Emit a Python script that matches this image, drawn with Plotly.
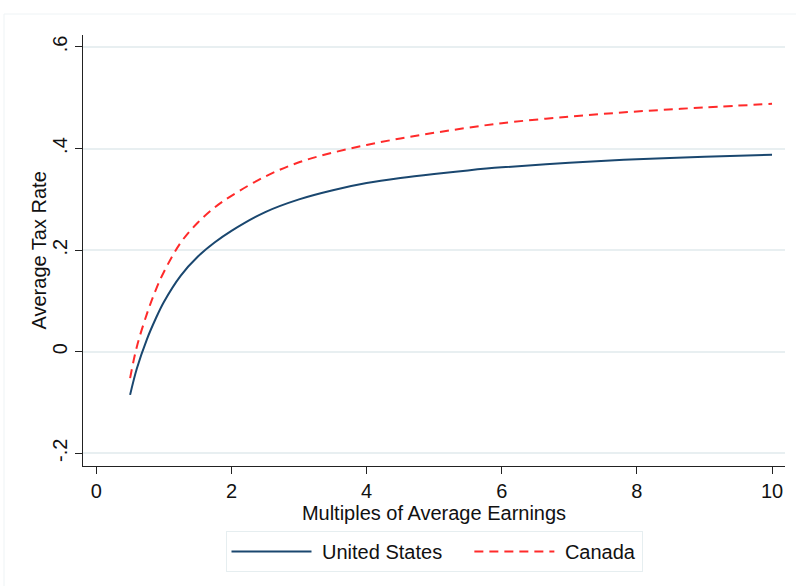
import plotly.graph_objects as go

# Income as a multiple of average earnings
multiples = [0.5, 0.6, 0.75, 0.875, 1.0, 1.25, 1.5, 1.75, 2.0, 2.5, 3.0,
             3.5, 4.0, 4.5, 5.0, 5.5, 6.0, 7.0, 8.0, 9.0, 10.0]

# Average tax rate at each multiple
us_rate = [-0.085, -0.033, 0.025, 0.064, 0.098, 0.150, 0.187, 0.215, 0.238,
           0.275, 0.300, 0.318, 0.332, 0.342, 0.350, 0.357, 0.363, 0.372,
           0.379, 0.384, 0.388]
canada_rate = [-0.052, 0.010, 0.075, 0.120, 0.157, 0.215, 0.254, 0.284,
               0.307, 0.345, 0.373, 0.392, 0.407, 0.420, 0.431, 0.441,
               0.450, 0.463, 0.473, 0.481, 0.488]

y_ticks = [-0.2, 0, 0.2, 0.4, 0.6]
y_tick_text = ["-.2", "0", ".2", ".4", ".6"]
x_ticks = [0, 2, 4, 6, 8, 10]

FONT = "Liberation Sans, Arial, sans-serif"
GRID = "#e8eff1"
AXIS = "#222222"
FS = 20
NBSP = "\u00a0"

fig = go.Figure()
fig.add_trace(go.Scatter(
    x=multiples, y=us_rate, mode="lines",
    name=NBSP + "United States" + NBSP * 4,
    line=dict(color="#1a476f", width=2, shape="spline", smoothing=1.0),
))
fig.add_trace(go.Scatter(
    x=multiples, y=canada_rate, mode="lines", name=NBSP + "Canada",
    line=dict(color="#ff2a2a", width=2, dash="9px,6px", shape="spline",
              smoothing=1.0),
))

fig.update_layout(
    width=796, height=586,
    margin=dict(l=83, r=11, t=35, b=120),
    paper_bgcolor="white", plot_bgcolor="white",
    font=dict(family=FONT, size=FS, color="#111111"),
    showlegend=True,
    legend=dict(
        orientation="h", x=0.5, xanchor="center", y=-0.151, yanchor="top",
        bordercolor="#e6eef0", borderwidth=1, bgcolor="white",
        font=dict(size=FS), itemwidth=80, tracegroupgap=0,
    ),
    xaxis=dict(
        range=[-0.197, 10.192], tickvals=x_ticks, showgrid=False,
        zeroline=False, showline=True, linecolor=AXIS, linewidth=1,
        ticks="outside", ticklen=7, tickcolor=AXIS, tickwidth=1,
        tickfont=dict(size=FS),
        title=dict(text="Multiples of Average Earnings", standoff=2,
                   font=dict(size=FS)),
    ),
    yaxis=dict(
        range=[-0.225, 0.6236], tickvals=y_ticks, ticktext=y_tick_text,
        tickangle=-90, showgrid=True, gridcolor=GRID, gridwidth=1.5,
        zeroline=False, showline=True, linecolor=AXIS, linewidth=1,
        ticks="outside", ticklen=7, tickcolor=AXIS, tickwidth=1,
        tickfont=dict(size=FS),
    ),
    annotations=[dict(
        text="Average Tax Rate", textangle=-90, showarrow=False,
        xref="paper", yref="paper", x=-0.0641, y=0.5,
        xanchor="center", yanchor="middle", font=dict(size=FS),
    )],
    shapes=[dict(type="rect", xref="paper", yref="paper",
                 x0=-0.1125, x1=1.03, y0=-0.35, y1=1.0487,
                 line=dict(color="#eef3f5", width=1), layer="below")],
)

fig.write_html("out.html")
